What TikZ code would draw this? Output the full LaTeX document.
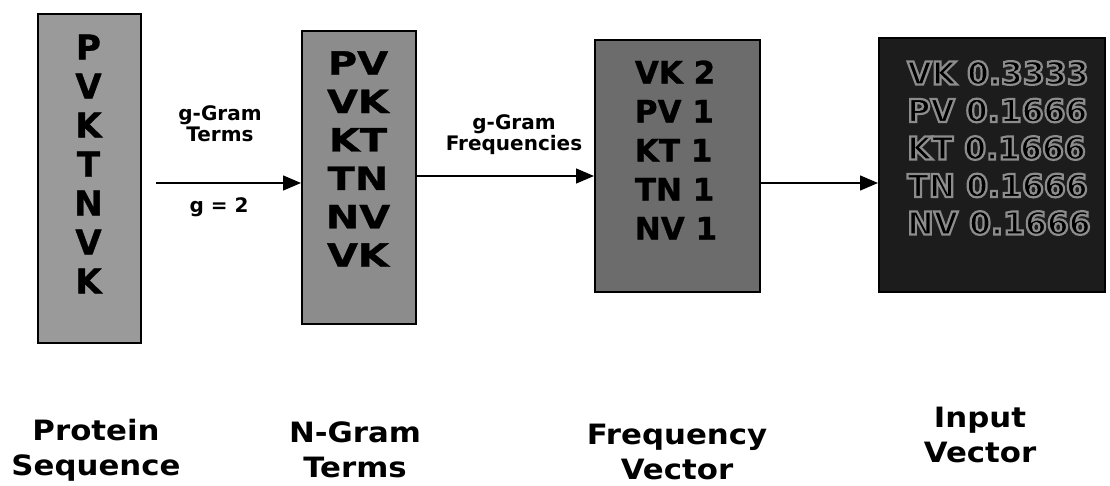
\documentclass[tikz,border=0pt]{standalone}
\usepackage{fontspec}
\setmainfont{DejaVu Sans}
\newfontfamily\wideA[FakeStretch=1.1]{DejaVu Sans}
\newfontfamily\wideB[FakeStretch=1.25,FakeBold=1]{DejaVu Sans}
\newfontfamily\heavy[FakeBold=1]{DejaVu Sans}
\newfontfamily\outl[FakeBold=7]{DejaVu Sans}
\usetikzlibrary{arrows.meta}
\definecolor{gA}{HTML}{9A9A9A}
\definecolor{gB}{HTML}{8C8C8C}
\definecolor{gC}{HTML}{6C6C6C}
\definecolor{gD}{HTML}{1C1C1C}
\begin{document}
\begin{tikzpicture}[x=1pt,y=-1pt,
  box/.style={draw=black, line width=1.6pt, anchor=north west, inner sep=0pt},
  boxtext/.style={align=center, inner sep=0pt},
  lbl/.style={align=center, inner sep=0pt, font=\bfseries\fontsize{20}{21}\selectfont},
  captext/.style={align=center, inner sep=0pt, font=\wideA\bfseries\fontsize{28}{35}\selectfont},
  arr/.style={line width=1.5pt, -{Triangle[length=18pt,width=15pt]}}]
\useasboundingbox (0,0) rectangle (1110,485);
% boxes
\node[box, fill=gA, minimum width=103pt, minimum height=329pt] (b1) at (37,13) {};
\node[box, fill=gB, minimum width=114pt, minimum height=293pt] (b2) at (301,30) {};
\node[box, fill=gC, minimum width=165pt, minimum height=252pt] (b3) at (594,39) {};
\node[box, fill=gD, minimum width=226pt, minimum height=254pt] (b4) at (878,37) {};
% box texts
\node[boxtext, font=\heavy\bfseries\fontsize{34}{39}\selectfont] (t1) at (88.5,164) {P\\V\\K\\T\\N\\V\\K};
\node[boxtext, font=\wideB\bfseries\fontsize{32}{38.4}\selectfont] (t2) at (358,159) {PV\\VK\\KT\\TN\\NV\\VK};
\node[boxtext, align=left, font=\heavy\bfseries\fontsize{31}{39}\selectfont] (t3) at (676,150) {VK 2\\PV 1\\KT 1\\TN 1\\NV 1};
\node[boxtext, align=left, font=\outl\bfseries\fontsize{31.5}{37.5}\selectfont] (t4) at (999,148) {\special{pdf:code 0.55 0.55 0.55 RG}VK 0.3333\\\special{pdf:code 0.55 0.55 0.55 RG}PV 0.1666\\\special{pdf:code 0.55 0.55 0.55 RG}KT 0.1666\\\special{pdf:code 0.55 0.55 0.55 RG}TN 0.1666\\\special{pdf:code 0.55 0.55 0.55 RG}NV 0.1666};
% arrows
\coordinate (s1) at (156,183);
\coordinate (s2) at (415,176);
\coordinate (s3) at (759,183);
\draw[arr] (s1) -- (s1 -| b2.west);
\draw[arr] (s2) -- (s2 -| b3.west);
\draw[arr] (s3) -- (s3 -| b4.west);
% arrow labels
\node[lbl] (l1) at (220,124) {g-Gram\\Terms};
\node[lbl] (l2) at (219,207) {g = 2};
\node[lbl] (l3) at (514,135) {g-Gram\\Frequencies};
% captions
\node[captext] (c1) at (96,450) {Protein\\Sequence};
\node[captext] (c2) at (355,450) {N-Gram\\Terms};
\node[captext] (c3) at (677,452) {Frequency\\Vector};
\node[captext] (c4) at (980,435) {Input\\Vector};
\end{tikzpicture}
\end{document}
